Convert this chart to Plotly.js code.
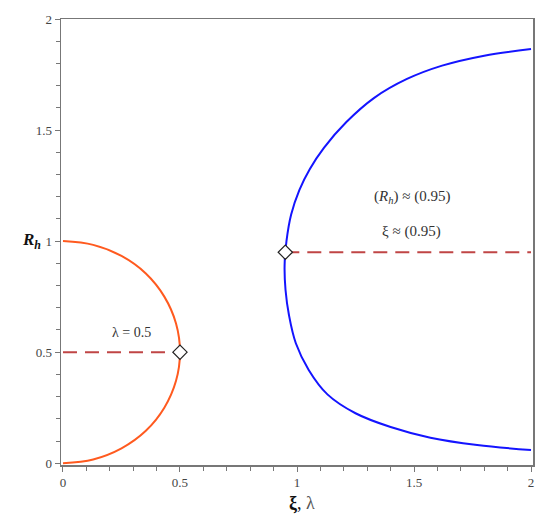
<!DOCTYPE html>
<html>
<head>
<meta charset="utf-8">
<script src="https://cdn.plot.ly/plotly-3.0.1.min.js"></script>
<style>
  html, body { margin: 0; padding: 0; background: #fff; }
  #chart { width: 550px; height: 524px; }
</style>
</head>
<body>
<div id="chart"></div>
<script>
/* lambda branch (orange half circle) */
var lamX = [0, 0.129, 0.25, 0.354, 0.433, 0.483, 0.5, 0.483, 0.433, 0.354, 0.25, 0.129, 0];
var lamY = [0, 0.017, 0.067, 0.146, 0.25, 0.371, 0.5, 0.629, 0.75, 0.854, 0.933, 0.983, 1];

/* xi branch (blue), top end to bottom end */
var xiX = [2.0, 1.80, 1.62, 1.47, 1.33, 1.21, 1.115, 1.055, 1.01, 0.975, 0.955, 0.947, 0.951, 0.966, 0.995, 1.05, 1.13, 1.25, 1.40, 1.57, 1.77, 2.0];
var xiY = [1.865, 1.835, 1.79, 1.73, 1.645, 1.535, 1.42, 1.325, 1.23, 1.12, 1.0, 0.89, 0.78, 0.665, 0.54, 0.42, 0.31, 0.225, 0.163, 0.115, 0.082, 0.059];

/* marked points and their level lines */
var markX = [0.5, 0.95];
var markY = [0.5, 0.95];
var lvl1X = [0, 0.5], lvl1Y = [0.5, 0.5];
var lvl2X = [0.95, 2], lvl2Y = [0.95, 0.95];

var tickVals = [0, 0.5, 1, 1.5, 2];
var tickText = ['0', '0.5', '1', '1.5', '2'];

var SERIF = 'Liberation Serif, Times New Roman, serif';
var DASH = '#c04545';

var traces = [
  { x: lvl1X, y: lvl1Y, mode: 'lines', line: { color: DASH, width: 2, dash: '14px,8px' }, hoverinfo: 'skip' },
  { x: lvl2X, y: lvl2Y, mode: 'lines', line: { color: DASH, width: 2, dash: '14px,8px' }, hoverinfo: 'skip' },
  { x: lamX, y: lamY, mode: 'lines', line: { color: '#ff5a1f', width: 2, shape: 'spline', smoothing: 1 }, hoverinfo: 'skip' },
  { x: xiX, y: xiY, mode: 'lines', line: { color: '#1414ff', width: 2, shape: 'spline', smoothing: 1 }, hoverinfo: 'skip' },
  { x: markX, y: markY, mode: 'markers', marker: { symbol: 'diamond', size: 11, color: '#fff', line: { color: '#222', width: 1.2 } }, hoverinfo: 'skip' }
];

function axis(range) {
  return {
    range: range,
    showgrid: false, zeroline: false,
    showline: true, linecolor: '#777', linewidth: 1.5, mirror: true,
    ticks: 'outside', ticklen: 5, tickcolor: '#777', tickwidth: 1,
    tickvals: tickVals, ticktext: tickText,
    tickfont: { family: SERIF, size: 13, color: '#444' },
    minor: { dtick: 0.1, ticks: 'outside', ticklen: 4, tickcolor: '#777', tickwidth: 1 },
    fixedrange: true
  };
}

var layout = {
  width: 550, height: 524,
  margin: { l: 61, r: 17, t: 19, b: 59 },
  paper_bgcolor: '#fff', plot_bgcolor: '#fff',
  showlegend: false,
  xaxis: axis([-0.0085, 2.0085]),
  yaxis: axis([-0.008, 2.0]),
  annotations: [
    { x: 0.294, y: 0.59, xref: 'x', yref: 'y', showarrow: false,
      text: 'λ = 0.5', font: { family: SERIF, size: 14, color: '#333' } },
    { x: 1.49, y: 1.2, xref: 'x', yref: 'y', showarrow: false,
      text: '(<i>R<sub>h</sub></i>) ≈ (0.95)', font: { family: SERIF, size: 15, color: '#333' } },
    { x: 1.49, y: 1.042, xref: 'x', yref: 'y', showarrow: false,
      text: 'ξ ≈ (0.95)', font: { family: SERIF, size: 15, color: '#333' } },
    { x: 20, y: 241, xref: 'paper', yref: 'paper', showarrow: false,
      text: '<b><i>R<sub>h</sub></i></b>', font: { family: SERIF, size: 17, color: '#111' } },
    { x: 0.5, y: 0, xref: 'paper', yref: 'paper', yanchor: 'top', yshift: -26, xshift: 5, showarrow: false,
      text: '<b>ξ</b>, <span style="color:#555">λ</span>', font: { family: SERIF, size: 18, color: '#111' } }
  ]
};

/* y-axis label sits in the left margin: convert pixel spot to paper coords */
var pw = 550 - 61 - 17, ph = 524 - 19 - 59;
layout.annotations[3].x = (20 - 61) / pw;
layout.annotations[3].y = (524 - 59 - 241) / ph;

Plotly.newPlot('chart', traces, layout, { displayModeBar: false, staticPlot: true });
</script>
</body>
</html>
